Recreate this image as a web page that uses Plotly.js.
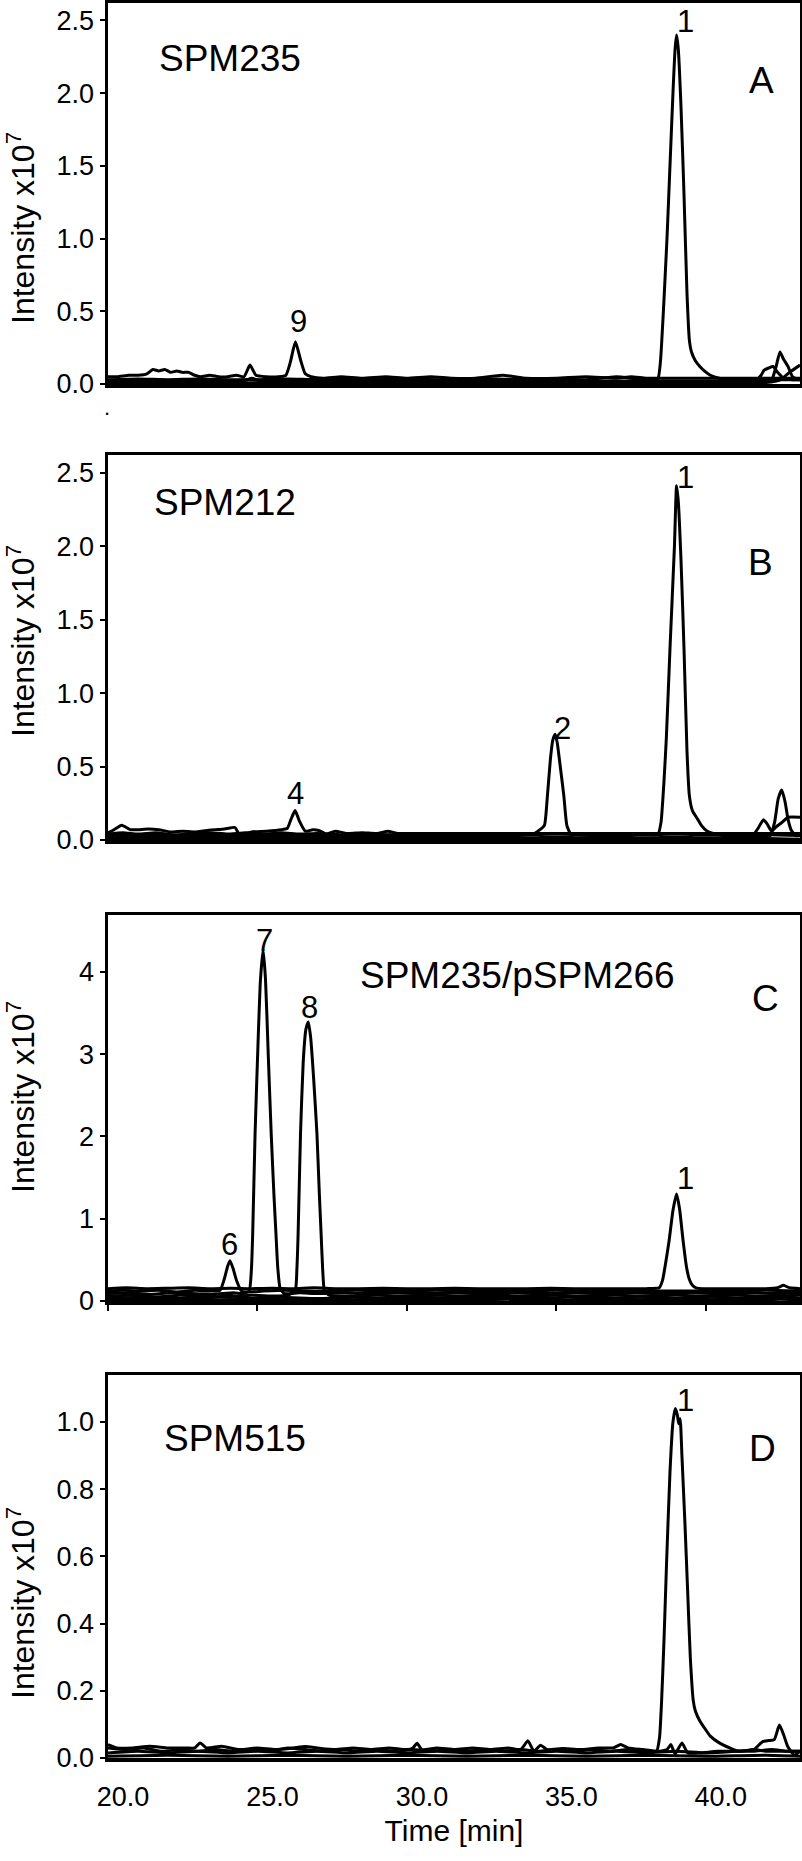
<!DOCTYPE html>
<html>
<head>
<meta charset="utf-8">
<script src="https://cdn.plot.ly/plotly-3.0.1.min.js"></script>
<style>html,body{margin:0;padding:0;background:#fff;}</style>
</head>
<body>
<div id="chart" style="width:802px;height:1861px;"></div>
<script>
// ---------- Panel A (SPM235) ----------
const tA1 = [20.0,20.3,20.7,21.0,21.3,21.5,21.7,21.9,22.1,22.3,22.5,22.7,22.9,23.1,23.4,23.7,24.0,24.3,24.55,24.75,24.95,25.3,25.7,25.95,26.1,26.27,26.45,26.6,26.8,27.2,27.8,28.5,29.3,30.0,30.8,31.5,32.3,33.2,34.0,35.0,36.0,37.0,37.5,38.0,38.5,39.0,39.5,40.0,40.6,41.2,41.8,42.4,43.15];
const iA1 = [0.05,0.05,0.06,0.06,0.07,0.10,0.09,0.10,0.08,0.09,0.08,0.08,0.06,0.05,0.06,0.05,0.05,0.06,0.05,0.13,0.06,0.05,0.05,0.06,0.15,0.29,0.16,0.07,0.05,0.04,0.05,0.04,0.05,0.04,0.05,0.04,0.04,0.06,0.04,0.04,0.05,0.04,0.05,0.04,0.04,0.04,0.04,0.04,0.04,0.04,0.04,0.04,0.04];
const tA2 = [20,21,22,23,24,25,26,27,28,29,30,31,32,33,34,35,36,37,37.7,38.2,38.4,38.48,38.58,38.7,38.8,38.9,38.97,39.02,39.08,39.17,39.27,39.37,39.45,39.52,39.65,39.8,39.95,40.15,40.45,40.8,41.3,41.8,42.3,43.15];
const iA2 = [0.03,0.035,0.03,0.035,0.03,0.03,0.035,0.03,0.035,0.03,0.035,0.03,0.03,0.035,0.03,0.035,0.03,0.05,0.035,0.03,0.04,0.15,0.5,1.0,1.5,2.0,2.3,2.40,2.3,1.9,1.3,0.62,0.3,0.22,0.16,0.12,0.09,0.06,0.04,0.035,0.03,0.03,0.03,0.03];
const tA3 = [20,20.6,21.2,21.9,22.6,23.3,24.0,24.7,25.4,26.1,26.8,27.6,28.4,29.2,30.0,30.8,31.6,32.4,33.2,34.0,34.8,35.6,36.4,37.2,38.0,38.8,39.6,40.4,41.2,41.7,41.85,41.95,42.1,42.25,42.4,42.6,42.9,43.15];
const iA3 = [0.02,0.03,0.02,0.02,0.03,0.02,0.02,0.03,0.02,0.02,0.03,0.02,0.02,0.03,0.02,0.02,0.03,0.02,0.02,0.02,0.03,0.02,0.02,0.02,0.02,0.02,0.02,0.02,0.02,0.03,0.06,0.095,0.11,0.12,0.08,0.04,0.03,0.03];
const tA4 = [20,21,22,23,24,24.5,24.8,25.2,26,27,28,29,30,31,32,33,34,35,36,37,38,39,40,41,41.8,42.2,42.35,42.48,42.6,42.75,42.9,43.15];
const iA4 = [0.01,0.015,0.01,0.015,0.01,0.015,0.04,0.015,0.01,0.015,0.01,0.015,0.01,0.015,0.01,0.015,0.01,0.015,0.01,0.015,0.01,0.015,0.01,0.015,0.02,0.03,0.12,0.22,0.17,0.12,0.05,0.03];
const tA5 = [20,22,24,26,28,30,32,34,36,38,40,42,42.5,42.8,43.15];
const iA5 = [0.005,0.01,0.005,0.01,0.005,0.01,0.005,0.01,0.005,0.01,0.005,0.01,0.03,0.08,0.13];

// ---------- Panel B (SPM212) ----------
const tB1 = [20,20.2,20.46,20.75,21.0,21.35,21.7,22.1,22.5,22.9,23.3,23.6,23.9,24.25,24.4,24.8,25.3,25.8,26.0,26.12,26.26,26.4,26.6,26.85,27.05,27.3,27.6,28.0,28.5,29.0,29.36,29.7,30.3,31.0,31.8,32.6,33.4,34.2,35.0,36.0,37.0,38.0,39.0,40.0,41.0,42.0,43.15];
const iB1 = [0.05,0.07,0.10,0.07,0.07,0.075,0.07,0.055,0.06,0.055,0.065,0.07,0.075,0.085,0.035,0.055,0.06,0.07,0.08,0.14,0.20,0.13,0.06,0.07,0.065,0.04,0.06,0.045,0.05,0.045,0.06,0.045,0.045,0.045,0.045,0.045,0.045,0.045,0.045,0.045,0.045,0.045,0.045,0.045,0.045,0.045,0.045];
const tB2 = [20,21,22,23,24,25,26,27,28,29,30,31,32,33,33.7,34.0,34.27,34.45,34.6,34.7,34.8,34.88,34.96,35.03,35.1,35.25,35.35,35.48,35.7,36.2,36.8,37.4,37.9,38.2,38.4,38.5,38.6,38.68,38.8,38.95,39.02,39.08,39.17,39.27,39.37,39.45,39.55,39.7,39.85,40.05,40.4,40.9,41.5,42.0,43.15];
const iB2 = [0.03,0.035,0.03,0.035,0.03,0.035,0.03,0.035,0.03,0.035,0.03,0.035,0.03,0.035,0.03,0.035,0.045,0.07,0.10,0.30,0.55,0.68,0.72,0.66,0.55,0.30,0.10,0.04,0.035,0.03,0.035,0.03,0.045,0.035,0.04,0.12,0.4,0.7,1.3,2.0,2.41,2.3,1.9,1.3,0.6,0.3,0.2,0.15,0.1,0.06,0.04,0.035,0.03,0.035,0.03];
const tB3 = [20,20.5,21.0,21.6,22.2,22.8,23.4,24.0,24.6,25.2,25.8,26.4,27.0,27.8,28.6,29.4,30.2,31.0,32.0,33.0,34.0,35.0,36.0,37.0,38.0,39.0,40.0,41.0,41.6,41.75,41.92,42.05,42.2,42.35,42.55,42.75,43.15];
const iB3 = [0.04,0.05,0.04,0.05,0.035,0.045,0.05,0.04,0.05,0.04,0.05,0.04,0.045,0.035,0.04,0.035,0.04,0.035,0.035,0.04,0.035,0.04,0.035,0.04,0.035,0.04,0.035,0.04,0.04,0.08,0.137,0.11,0.06,0.09,0.12,0.155,0.155];
const tB4 = [20,21,22,23,24,25,26,27,28,29,30,31,32,33,34,35,36,37,38,39,40,41,42.0,42.15,42.3,42.42,42.54,42.65,42.75,42.85,43.0,43.15];
const iB4 = [0.015,0.02,0.015,0.02,0.015,0.02,0.015,0.02,0.015,0.02,0.015,0.02,0.015,0.02,0.015,0.02,0.015,0.02,0.015,0.02,0.015,0.02,0.02,0.03,0.12,0.28,0.34,0.26,0.14,0.07,0.03,0.03];
const tB5 = [20,22,24,26,28,30,32,34,36,38,40,42,43.15];
const iB5 = [0.005,0.01,0.005,0.01,0.005,0.01,0.005,0.01,0.005,0.01,0.005,0.01,0.005];

// ---------- Panel C (SPM235/pSPM266) ----------
const tC1 = [20,20.6,21.3,22.0,22.7,23.4,24.1,24.8,25.5,26.2,26.9,27.6,28.4,29.2,30.0,30.8,31.6,32.4,33.2,34.0,34.8,35.6,36.4,37.2,38.0,38.44,38.55,38.65,38.77,38.9,39.02,39.12,39.24,39.35,39.45,39.55,39.67,39.9,40.3,40.9,41.5,42.0,42.4,42.6,42.8,43.15];
const iC1 = [0.15,0.16,0.15,0.155,0.16,0.15,0.155,0.15,0.155,0.15,0.16,0.15,0.15,0.155,0.15,0.15,0.155,0.15,0.15,0.15,0.155,0.15,0.15,0.15,0.15,0.16,0.25,0.45,0.73,1.1,1.30,1.12,0.73,0.42,0.26,0.19,0.16,0.15,0.15,0.15,0.15,0.15,0.16,0.19,0.16,0.15];
const tC2 = [20,20.5,21.1,21.7,22.3,22.9,23.4,23.75,23.9,24.0,24.08,24.18,24.3,24.47,24.7,25.2,25.9,26.6,27.4,28.3,29.2,30.1,31.0,32.0,33.0,34.0,35.0,36.0,37.0,38.0,39.0,40.0,41.0,42.0,43.15];
const iC2 = [0.12,0.13,0.12,0.13,0.11,0.13,0.12,0.13,0.28,0.42,0.49,0.40,0.25,0.12,0.11,0.12,0.13,0.12,0.12,0.13,0.12,0.12,0.13,0.12,0.12,0.12,0.13,0.12,0.12,0.12,0.12,0.12,0.12,0.13,0.12];
const tC3 = [20,20.7,21.4,22.1,22.8,23.5,24.2,24.5,24.72,24.8,24.84,24.92,25.03,25.1,25.19,25.27,25.36,25.46,25.55,25.62,25.68,25.76,25.9,26.4,27.0,27.8,28.6,29.5,30.5,31.5,32.5,33.5,34.5,35.5,36.5,37.5,38.5,39.5,40.5,41.5,42.5,43.15];
const iC3 = [0.09,0.10,0.08,0.10,0.09,0.08,0.10,0.09,0.12,0.4,0.81,2.03,3.25,3.9,4.27,3.9,3.0,2.03,1.3,0.81,0.4,0.15,0.09,0.10,0.09,0.10,0.09,0.10,0.09,0.10,0.09,0.10,0.09,0.10,0.09,0.10,0.09,0.10,0.09,0.10,0.09,0.10];
const tC4 = [20,20.8,21.6,22.4,23.2,24.0,24.8,25.6,26.0,26.26,26.32,26.36,26.44,26.53,26.62,26.70,26.78,26.88,26.99,27.07,27.13,27.18,27.24,27.4,28.0,29.0,30.0,31.0,32.0,33.0,34.0,35.0,36.0,37.0,38.0,39.0,40.0,41.0,42.0,43.15];
const iC4 = [0.06,0.07,0.05,0.07,0.06,0.05,0.07,0.06,0.07,0.12,0.4,0.81,2.03,2.9,3.3,3.39,3.2,2.7,2.03,1.3,0.81,0.4,0.13,0.07,0.06,0.07,0.06,0.07,0.06,0.07,0.06,0.07,0.06,0.07,0.06,0.07,0.06,0.07,0.06,0.07];
const tC5 = [20,21.2,22.4,23.6,24.1,24.6,25.8,27.0,28.2,29.4,30.6,31.8,33.0,34.2,35.4,36.6,37.8,39.0,40.2,41.4,42.6,43.15];
const iC5 = [0.03,0.045,0.03,0.045,0.07,0.03,0.045,0.03,0.045,0.03,0.045,0.03,0.045,0.03,0.045,0.03,0.045,0.03,0.045,0.03,0.045,0.03];
const tC6 = [20,21.5,23,24.5,26,27.5,29,30.5,32,33.5,35,36.5,38,39.5,41,42.5,43.15];
const iC6 = [0.015,0.02,0.01,0.02,0.015,0.02,0.01,0.02,0.015,0.02,0.01,0.02,0.015,0.02,0.01,0.02,0.015];

// ---------- Panel D (SPM515) ----------
const tD1 = [20,20.6,21.2,21.8,22.4,23.0,23.6,24.2,24.8,25.4,26.0,26.6,27.2,27.8,28.4,29.0,29.6,30.2,30.8,31.4,32.0,32.6,33.2,33.8,34.4,35.0,35.6,36.2,36.8,37.4,38.0,38.35,38.45,38.52,38.6,38.69,38.8,38.9,38.98,39.05,39.09,39.14,39.2,39.3,39.39,39.48,39.58,39.65,39.8,39.95,40.15,40.45,40.8,41.1,41.6,42.0,42.5,43.15];
const iD1 = [0.03,0.025,0.03,0.02,0.025,0.02,0.025,0.02,0.025,0.02,0.03,0.025,0.02,0.025,0.02,0.025,0.02,0.025,0.02,0.025,0.02,0.025,0.02,0.025,0.02,0.025,0.02,0.025,0.02,0.025,0.02,0.02,0.06,0.17,0.35,0.59,0.85,1.0,1.04,1.02,0.995,1.01,0.9,0.7,0.5,0.3,0.17,0.14,0.11,0.09,0.065,0.045,0.03,0.02,0.025,0.02,0.02,0.02];
const tD2 = [20,20.3,20.8,21.4,22.0,22.6,22.9,23.08,23.3,23.8,24.4,25.0,25.6,26.2,26.6,27.0,27.6,28.2,28.8,29.4,30.0,30.2,30.34,30.5,31.0,31.6,32.2,32.8,33.4,33.8,34.05,34.25,34.47,34.7,35.2,35.8,36.4,36.9,37.15,37.4,37.9,38.4,38.7,38.83,38.97,39.2,39.4,39.8,40.4,41.0,41.6,42.2,42.7,43.15];
const iD2 = [0.04,0.03,0.03,0.035,0.03,0.03,0.03,0.045,0.03,0.035,0.025,0.03,0.025,0.03,0.034,0.03,0.025,0.03,0.025,0.03,0.025,0.03,0.044,0.025,0.03,0.025,0.03,0.025,0.03,0.025,0.051,0.02,0.038,0.025,0.028,0.025,0.03,0.03,0.04,0.03,0.025,0.02,0.025,0.04,0.012,0.045,0.015,0.015,0.02,0.02,0.02,0.025,0.02,0.02];
const tD3 = [20,21,22,23,24,25,26,27,28,29,30,31,32,33,34,35,36,37,38,39,40,41,41.6,41.9,42.1,42.29,42.46,42.6,42.74,42.96,43.15];
const iD3 = [0.015,0.02,0.015,0.02,0.015,0.02,0.015,0.02,0.015,0.02,0.015,0.02,0.015,0.02,0.015,0.02,0.015,0.02,0.015,0.02,0.015,0.02,0.025,0.049,0.052,0.055,0.098,0.07,0.034,0.009,0.02];
const tD4 = [20,22,24,26,28,30,32,34,36,38,40,42,43.15];
const iD4 = [0.005,0.008,0.005,0.008,0.005,0.008,0.005,0.008,0.005,0.008,0.005,0.008,0.005];

// ---------- Texts ----------
const panelNames = ['SPM235','SPM212','SPM235/pSPM266','SPM515'];
const panelLetters = ['A','B','C','D'];
const yTitle = 'Intensity x10<sup>7</sup>';
const xTitle = 'Time [min]';
const xTickVals = [20,25,30,35,40];

const panels = [
  {xa:'x',  ya:'y',  series:[[tA1,iA1],[tA2,iA2],[tA3,iA3],[tA4,iA4],[tA5,iA5]]},
  {xa:'x2', ya:'y2', series:[[tB1,iB1],[tB2,iB2],[tB3,iB3],[tB4,iB4],[tB5,iB5]]},
  {xa:'x3', ya:'y3', series:[[tC1,iC1],[tC2,iC2],[tC3,iC3],[tC4,iC4],[tC5,iC5],[tC6,iC6]]},
  {xa:'x4', ya:'y4', series:[[tD1,iD1],[tD2,iD2],[tD3,iD3],[tD4,iD4]]}
];

const traces = [];
panels.forEach(p => p.series.forEach(s => traces.push({
  type:'scatter', mode:'lines', x:s[0], y:s[1], xaxis:p.xa, yaxis:p.ya,
  line:{color:'black', width:3, shape:'spline', smoothing:0.5},
  hoverinfo:'skip'
})));

// pixel helpers (page px -> paper coords)
const L = 108, R = 800, T = 3, B = 1758;
const px = x => (x - L) / (R - L);
const py = y => (B - y) / (B - T);
const dom = (top, bot) => [py(bot), py(top)];

const FONT = 'Liberation Sans, Arial, Helvetica, sans-serif';
function ann(text, x, y, size, angle) {
  return {text:text, xref:'paper', yref:'paper', x:px(x), y:py(y), xanchor:'center', yanchor:'middle',
          textangle:angle || 0, showarrow:false, font:{family:FONT, size:size, color:'black'}};
}

const baseX = {range:[20,43.15], showline:true, mirror:true, linewidth:3.5, linecolor:'black',
  showgrid:false, zeroline:false, ticks:'', showticklabels:false, fixedrange:true};
function yAx(domain, range, tickvals, fmt) {
  return {domain:domain, range:range, tickvals:tickvals, tickformat:fmt, showline:true, mirror:true,
    linewidth:3.5, linecolor:'black', showgrid:false, zeroline:false, ticks:'outside', ticklen:5, tickwidth:2,
    tickcolor:'black', tickfont:{family:FONT, size:27, color:'black'}};
}

const layout = {
  width:802, height:1861, showlegend:false,
  margin:{l:L, r:802-R, t:T, b:1861-B, pad:0},
  paper_bgcolor:'white', plot_bgcolor:'white',
  font:{family:FONT, color:'black'},
  xaxis:  Object.assign({}, baseX, {anchor:'y'}),
  xaxis2: Object.assign({}, baseX, {anchor:'y2'}),
  xaxis3: Object.assign({}, baseX, {anchor:'y3', ticks:'outside', ticklen:6, tickwidth:2, tickcolor:'black', tickvals:xTickVals}),
  xaxis4: Object.assign({}, baseX, {anchor:'y4', showticklabels:true, tickvals:xTickVals, tickformat:'.1f',
           tickfont:{family:FONT, size:27, color:'black'}, ticklabelshift:15, ticklabelstandoff:12,
           title:{text:xTitle, font:{family:FONT, size:30, color:'black'}, standoff:10}}),
  yaxis:  Object.assign(yAx(dom(3,384), [0,2.62], [0,0.5,1,1.5,2,2.5], '.1f'), {anchor:'x'}),
  yaxis2: Object.assign(yAx(dom(455,840), [0,2.62], [0,0.5,1,1.5,2,2.5], '.1f'), {anchor:'x2'}),
  yaxis3: Object.assign(yAx(dom(915,1301), [0,4.69], [0,1,2,3,4], 'd'), {anchor:'x3'}),
  yaxis4: Object.assign(yAx(dom(1375,1758), [0,1.14], [0,0.2,0.4,0.6,0.8,1.0], '.1f'), {anchor:'x4'}),
  annotations:[
    ann(yTitle, 21, 228, 32, -90), ann(yTitle, 21, 641, 32, -90),
    ann(yTitle, 21, 1097, 32, -90), ann(yTitle, 21, 1603, 32, -90),
    ann(panelNames[0], 230, 59, 37), ann(panelLetters[0], 761, 80, 37),
    ann('1', 685, 22, 31), ann('9', 298, 322, 31),
    ann(panelNames[1], 225, 503, 37), ann(panelLetters[1], 760, 562, 37),
    ann('1', 685, 478, 31), ann('2', 562, 728, 31), ann('4', 295, 793, 31),
    ann(panelNames[2], 517, 976, 37), ann(panelLetters[2], 765, 998, 37),
    ann('7', 264, 940, 31), ann('8', 309, 1007, 31), ann('6', 229, 1245, 31), ann('1', 685, 1178, 31),
    ann(panelNames[3], 235, 1438, 37), ann(panelLetters[3], 762, 1448, 37),
    ann('1', 685, 1400, 31),
    ann('.', 107, 408, 22)
  ]
};

Plotly.newPlot('chart', traces, layout, {staticPlot:true, displayModeBar:false});
</script>
</body>
</html>
